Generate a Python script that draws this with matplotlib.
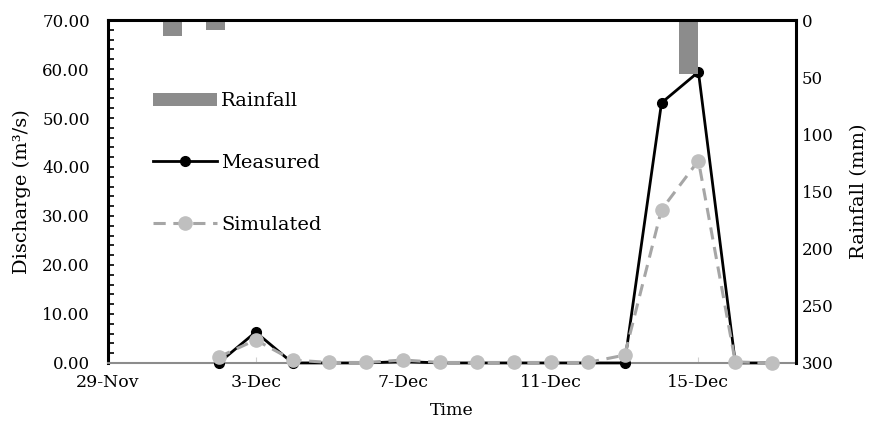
import numpy as np
import pandas as pd
import matplotlib.pyplot as plt
import matplotlib.dates as mdates
from matplotlib.patches import Patch
from matplotlib.lines import Line2D

plt.rcParams['font.family'] = 'DejaVu Serif'
plt.rcParams['font.size'] = 12

# data
days = pd.date_range('2023-12-02', '2023-12-17', freq='D')
measured = [0.0, 6.3, 0.0, 0.0, 0.0, 0.3, 0.0, 0.0, 0.0, 0.0, 0.0, 0.0, 53.1, 59.4, 0.0, 0.0]
simulated = [1.2, 4.7, 0.6, 0.1, 0.1, 0.6, 0.1, 0.1, 0.1, 0.1, 0.1, 1.6, 31.3, 41.3, 0.2, 0.0]
rain = [0, 14, 9, 1, 0, 0, 0, 0, 0, 0, 0, 1, 0, 47, 1, 0]  # mm, secondary category axis

tick_dates = pd.to_datetime(['2023-11-29', '2023-12-03', '2023-12-07', '2023-12-11', '2023-12-15'])
tick_labels = ['29-Nov', '3-Dec', '7-Dec', '11-Dec', '15-Dec']

fig = plt.figure(figsize=(8.74, 4.26), dpi=100)
ax = fig.add_axes([0.1236, 0.148, 0.7874, 0.805])

ax.plot(days, measured, color='black', lw=2.0, marker='o', ms=7, zorder=3,
        clip_on=False, label='Measured')
ax.plot(days, simulated, color='#a6a6a6', lw=2.2, ls=(0, (4, 2.5)), marker='o',
        ms=9.5, mfc='#bfbfbf', mec='#bfbfbf', zorder=4, clip_on=False, label='Simulated')

x0 = mdates.date2num(pd.Timestamp('2023-11-29'))
ax.set_xlim(x0, x0 + 18.65)
ax.set_ylim(0, 70)
ax.set_xticks(tick_dates)
ax.set_xticklabels(tick_labels, fontsize=12.5)
ax.set_yticks(np.arange(0, 71, 10))
ax.set_yticklabels([f'{v:.2f}' for v in np.arange(0, 71, 10)])
ax.set_yticks(np.arange(0, 71, 2), minor=True)
ax.tick_params(axis='y', which='both', direction='in', length=4, width=1.2, pad=13)
ax.tick_params(axis='x', direction='in', length=4, color='#d0d0d0', pad=8)
ax.set_xlabel('Time', labelpad=8, fontsize=12.5)
ax.set_ylabel('Discharge (m³/s)', labelpad=8, fontsize=14)

ax.spines['left'].set_linewidth(2.2)
ax.spines['top'].set_visible(False)
ax.spines['right'].set_visible(False)
ax.spines['bottom'].set_color('#8c8c8c')
ax.spines['bottom'].set_linewidth(1.5)

# rainfall on a secondary category axis
axr = fig.add_axes(ax.get_position())
axr.patch.set_visible(False)
axr.bar(np.arange(len(rain)), rain, width=0.44, color='#8c8c8c', label='Rainfall')
axr.set_xlim(-0.5, len(rain) - 0.5)
axr.set_ylim(300, 0)
axr.xaxis.set_visible(False)
axr.yaxis.tick_right()
axr.yaxis.set_label_position('right')
axr.set_yticks(np.arange(0, 301, 50))
axr.tick_params(axis='y', length=0, pad=4)
axr.set_ylabel('Rainfall (mm)', labelpad=12, fontsize=14)
for s in ['top', 'right']:
    axr.spines[s].set_linewidth(2.2)
axr.spines['left'].set_visible(False)
axr.spines['bottom'].set_visible(False)

handles = [
    Patch(facecolor='#8c8c8c', edgecolor='none', label='Rainfall'),
    Line2D([], [], color='black', lw=2.0, marker='o', ms=7, label='Measured'),
    Line2D([], [], color='#a6a6a6', lw=2.2, ls=(0, (4, 2.5)), marker='o', ms=9.5,
           mfc='#bfbfbf', mec='#bfbfbf', label='Simulated'),
]
axr.legend(handles=handles, loc='upper left', bbox_to_anchor=(0.04, 0.84),
           frameon=False, fontsize=14, handlelength=3.3, handleheight=0.65,
           labelspacing=2.25, numpoints=1, handletextpad=0.2)

fig.savefig('out.png', dpi=100)
